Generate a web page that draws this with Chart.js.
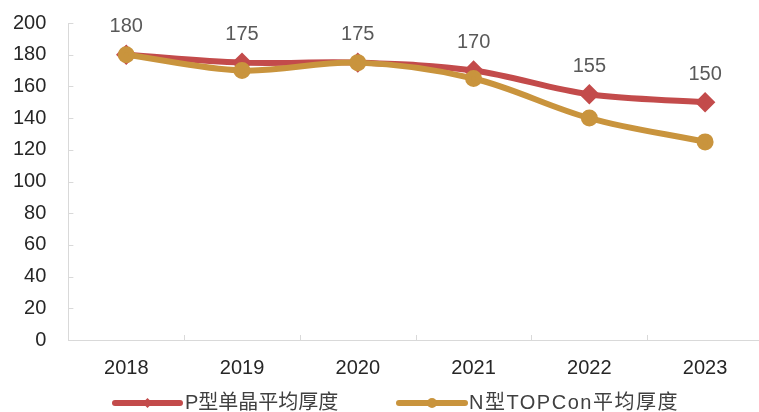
<!DOCTYPE html>
<html>
<head>
<meta charset="utf-8">
<script src="https://cdn.jsdelivr.net/npm/chart.js@4/dist/chart.umd.min.js"></script>
<style>
  html, body { margin: 0; padding: 0; background: #fff; overflow: hidden; }
  #wrap { width: 764px; height: 412px; }
</style>
</head>
<body>
<div id="wrap"><canvas id="thickness"></canvas></div>
<script>
// wafer thickness (μm) by year
const years = ["2018", "2019", "2020", "2021", "2022", "2023"];
const pMono = [180, 175, 175, 170, 155, 150];
const nTopcon = [180, 170, 175, 165, 140, 125];
const yTicks = [0, 20, 40, 60, 80, 100, 120, 140, 160, 180, 200];

const seriesNames = ["P型单晶平均厚度", "N型TOPCon平均厚度"];
const red = "#C34B4B";
const gold = "#C9943D";
const font = "'Liberation Sans', Arial, 'Noto Sans CJK SC', sans-serif";

// value labels over the P series, inside ticks, and the line+marker legend
const extras = {
    id: "extras",
    afterDatasetsDraw(chart) {
        const ctx = chart.ctx;
        const x = chart.scales.x;
        const y = chart.scales.y;
        const area = chart.chartArea;

        ctx.save();
        ctx.strokeStyle = "#D9D9D9";
        ctx.lineWidth = 1;
        yTicks.forEach(function (v) {
            const py = Math.round(y.getPixelForValue(v)) + 0.5;
            ctx.beginPath();
            ctx.moveTo(area.left, py);
            ctx.lineTo(area.left + 5, py);
            ctx.stroke();
        });
        for (let i = 0; i < years.length - 1; i++) {
            const px = Math.round((x.getPixelForValue(i) + x.getPixelForValue(i + 1)) / 2) + 0.5;
            ctx.beginPath();
            ctx.moveTo(px, area.bottom);
            ctx.lineTo(px, area.bottom - 5);
            ctx.stroke();
        }

        const meta = chart.getDatasetMeta(0);
        ctx.fillStyle = "#595959";
        ctx.font = "20px " + font;
        ctx.textAlign = "center";
        ctx.textBaseline = "middle";
        meta.data.forEach(function (pt, i) {
            ctx.fillText(String(pMono[i]), pt.x, pt.y - 28);
        });

        // legend
        const ly = 403;
        const items = [
            { name: seriesNames[0], color: red, style: "rectRot", x0: 115, x1: 180, tx: 185, sp: "0px" },
            { name: seriesNames[1], color: gold, style: "circle", x0: 399, x1: 465, tx: 469, sp: "1.5px" }
        ];
        items.forEach(function (it) {
            ctx.strokeStyle = it.color;
            ctx.lineWidth = 6;
            ctx.lineCap = "round";
            ctx.beginPath();
            ctx.moveTo(it.x0, ly);
            ctx.lineTo(it.x1, ly);
            ctx.stroke();
            ctx.fillStyle = it.color;
            Chart.helpers.drawPoint(ctx, { pointStyle: it.style, radius: 5, borderWidth: 0 }, (it.x0 + it.x1) / 2, ly);
            ctx.fillStyle = "#404040";
            ctx.textAlign = "left";
            ctx.letterSpacing = it.sp;
            ctx.fillText(it.name, it.tx, ly);
            ctx.letterSpacing = "0px";
        });
        ctx.restore();
    }
};

// tick padding should only space the labels, not shrink the plot area
function noEdgePadding(scale) {
    scale.paddingTop = 0;
    scale.paddingBottom = 0;
    scale.paddingLeft = 0;
    scale.paddingRight = 0;
}

new Chart("thickness", {
    type: "line",
    data: {
        labels: years,
        datasets: [
            {
                label: seriesNames[0],
                data: pMono,
                order: 1,
                borderColor: red,
                backgroundColor: red,
                borderWidth: 6,
                pointStyle: "rectRot",
                pointRadius: 6,
                tension: 0.35
            },
            {
                label: seriesNames[1],
                data: nTopcon,
                order: 0,
                borderColor: gold,
                backgroundColor: gold,
                borderWidth: 6,
                pointStyle: "circle",
                pointRadius: 5.5,
                tension: 0.35
            }
        ]
    },
    options: {
        responsive: true,
        maintainAspectRatio: false,
        animation: false,
        layout: { autoPadding: false, padding: { left: -9, right: 1, top: 23, bottom: 16 } },
        plugins: {
            legend: { display: false },
            tooltip: { enabled: false }
        },
        scales: {
            x: {
                offset: true,
                afterFit: noEdgePadding,
                grid: { display: false, drawTicks: false },
                border: { color: "#D9D9D9" },
                ticks: { color: "#262626", padding: 16, font: { size: 20, family: font } }
            },
            y: {
                min: 0,
                max: 200,
                afterFit: noEdgePadding,
                grid: { display: false, drawTicks: false },
                border: { color: "#D9D9D9" },
                ticks: {
                    stepSize: 20,
                    color: "#262626",
                    padding: 22,
                    font: { size: 20, family: font }
                }
            }
        }
    },
    plugins: [extras]
});
</script>
</body>
</html>
